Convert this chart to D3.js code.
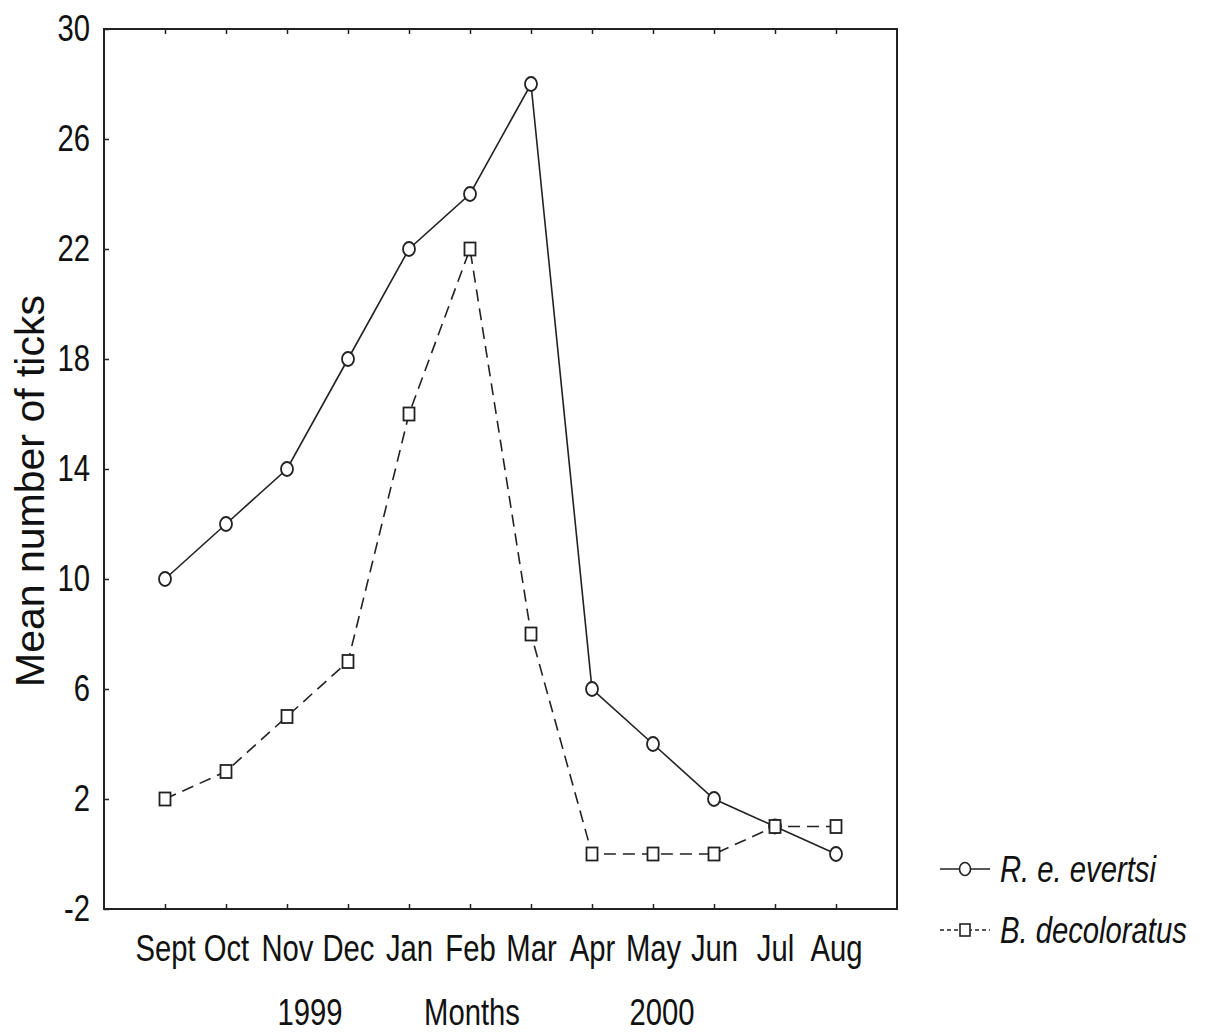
<!DOCTYPE html>
<html>
<head>
<meta charset="utf-8">
<script src="https://cdn.jsdelivr.net/npm/d3@7"></script>
<style>
  body { margin: 0; background: #fff; }
  .tick-label { font-family: 'Liberation Sans', Arial, sans-serif; font-size: 37px; fill: #111; }
  .axis-title { font-family: 'Liberation Sans', Arial, sans-serif; font-size: 41px; fill: #111; }
  .legend-text { font-family: 'Liberation Sans', Arial, sans-serif; font-size: 37px; font-style: italic; fill: #111; }
</style>
</head>
<body>
<div id="chart"></div>
<script>
// Data
var months = ["Sept", "Oct", "Nov", "Dec", "Jan", "Feb", "Mar", "Apr", "May", "Jun", "Jul", "Aug"];
var evertsi = [10, 12, 14, 18, 22, 24, 28, 6, 4, 2, 1, 0];
var decoloratus = [2, 3, 5, 7, 16, 22, 8, 0, 0, 0, 1, 1];
var yTicks = [-2, 2, 6, 10, 14, 18, 22, 26, 30];

var width = 1206, height = 1034;
var margin = {top: 29, right: 309, bottom: 125, left: 104};
var plotW = width - margin.left - margin.right,
    plotH = height - margin.top - margin.bottom;
var narrow = 0.79; // the original font is a condensed sans

var svg = d3.select("#chart")
  .append("svg")
  .attr("width", width)
  .attr("height", height);

var g = svg.append("g")
  .attr("transform", "translate(" + margin.left + "," + margin.top + ")");

// Scales
var x = d3.scalePoint()
  .domain(months)
  .range([0, plotW])
  .padding(1);

var y = d3.scaleLinear()
  .domain([-2, 30])
  .range([plotH, 0]);

// Frame
g.append("rect")
  .attr("x", 0).attr("y", 0)
  .attr("width", plotW).attr("height", plotH)
  .attr("fill", "none")
  .attr("stroke", "#222")
  .attr("stroke-width", 2);

// Left axis: inward ticks
var yAxis = g.append("g")
  .call(d3.axisLeft(y).tickValues(yTicks).tickSize(-5).tickFormat(function(d) { return String(d); }));
yAxis.select(".domain").remove();
yAxis.selectAll("line").attr("stroke", "#222").attr("stroke-width", 1.5);
yAxis.selectAll("text")
  .attr("class", "tick-label").attr("font-family", null).attr("font-size", null)
  .attr("x", -14 / narrow)
  .attr("transform", "scale(" + narrow + ",1)");

// Bottom axis: inward ticks
var xAxis = g.append("g")
  .attr("transform", "translate(0," + plotH + ")")
  .call(d3.axisBottom(x).tickSize(-5).tickPadding(26));
xAxis.select(".domain").remove();
xAxis.selectAll("line").attr("stroke", "#222").attr("stroke-width", 1.5);
xAxis.selectAll("text")
  .attr("class", "tick-label").attr("font-family", null).attr("font-size", null)
  .attr("transform", "scale(" + narrow + ",1)");

// Top ticks
var xTop = g.append("g")
  .call(d3.axisTop(x).tickSize(-5).tickFormat(""));
xTop.select(".domain").remove();
xTop.selectAll("line").attr("stroke", "#222").attr("stroke-width", 1.5);

// Lines
var line = d3.line()
  .x(function(d, i) { return x(months[i]); })
  .y(function(d) { return y(d); });

g.append("path")
  .datum(evertsi)
  .attr("d", line)
  .attr("fill", "none")
  .attr("stroke", "#222")
  .attr("stroke-width", 1.6);

g.append("path")
  .datum(decoloratus)
  .attr("d", line)
  .attr("fill", "none")
  .attr("stroke", "#222")
  .attr("stroke-width", 1.6)
  .attr("stroke-dasharray", "12,7");

// Markers
g.selectAll(".circ")
  .data(evertsi)
  .enter()
  .append("ellipse")
  .attr("cx", function(d, i) { return x(months[i]); })
  .attr("cy", function(d) { return y(d); })
  .attr("rx", 6).attr("ry", 7)
  .attr("fill", "#fff")
  .attr("stroke", "#222")
  .attr("stroke-width", 1.8);

g.selectAll(".sq")
  .data(decoloratus)
  .enter()
  .append("rect")
  .attr("x", function(d, i) { return x(months[i]) - 5.5; })
  .attr("y", function(d) { return y(d) - 6.5; })
  .attr("width", 11).attr("height", 13)
  .attr("fill", "#fff")
  .attr("stroke", "#222")
  .attr("stroke-width", 1.8);

// Condensed text helper: text anchored at (tx, ty)
function addText(cls, tx, ty, anchor, str) {
  svg.append("g")
    .attr("transform", "translate(" + tx + "," + ty + ") scale(" + narrow + ",1)")
    .append("text")
    .attr("class", cls)
    .style("text-anchor", anchor)
    .text(str);
}

// Axis titles
svg.append("text")
  .attr("class", "axis-title")
  .attr("transform", "translate(44," + (margin.top + plotH / 2 + 22) + ") rotate(-90)")
  .style("text-anchor", "middle")
  .text("Mean number of ticks");

addText("tick-label", 310, 1025, "middle", "1999");
addText("tick-label", 472, 1025, "middle", "Months");
addText("tick-label", 662, 1025, "middle", "2000");

// Legend
var legend = svg.append("g");
legend.append("line")
  .attr("x1", 940).attr("x2", 990).attr("y1", 869).attr("y2", 869)
  .attr("stroke", "#222").attr("stroke-width", 1.6);
legend.append("ellipse")
  .attr("cx", 965).attr("cy", 869).attr("rx", 5.5).attr("ry", 6.5)
  .attr("fill", "#fff").attr("stroke", "#222").attr("stroke-width", 1.6);
addText("legend-text", 1000, 882, "start", "R. e. evertsi");

legend.append("line")
  .attr("x1", 940).attr("x2", 990).attr("y1", 930).attr("y2", 930)
  .attr("stroke", "#222").attr("stroke-width", 1.6)
  .attr("stroke-dasharray", "4,3");
legend.append("rect")
  .attr("x", 960).attr("y", 924).attr("width", 10).attr("height", 12)
  .attr("fill", "#fff").attr("stroke", "#222").attr("stroke-width", 1.6);
addText("legend-text", 1000, 943, "start", "B. decoloratus");
</script>
</body>
</html>
